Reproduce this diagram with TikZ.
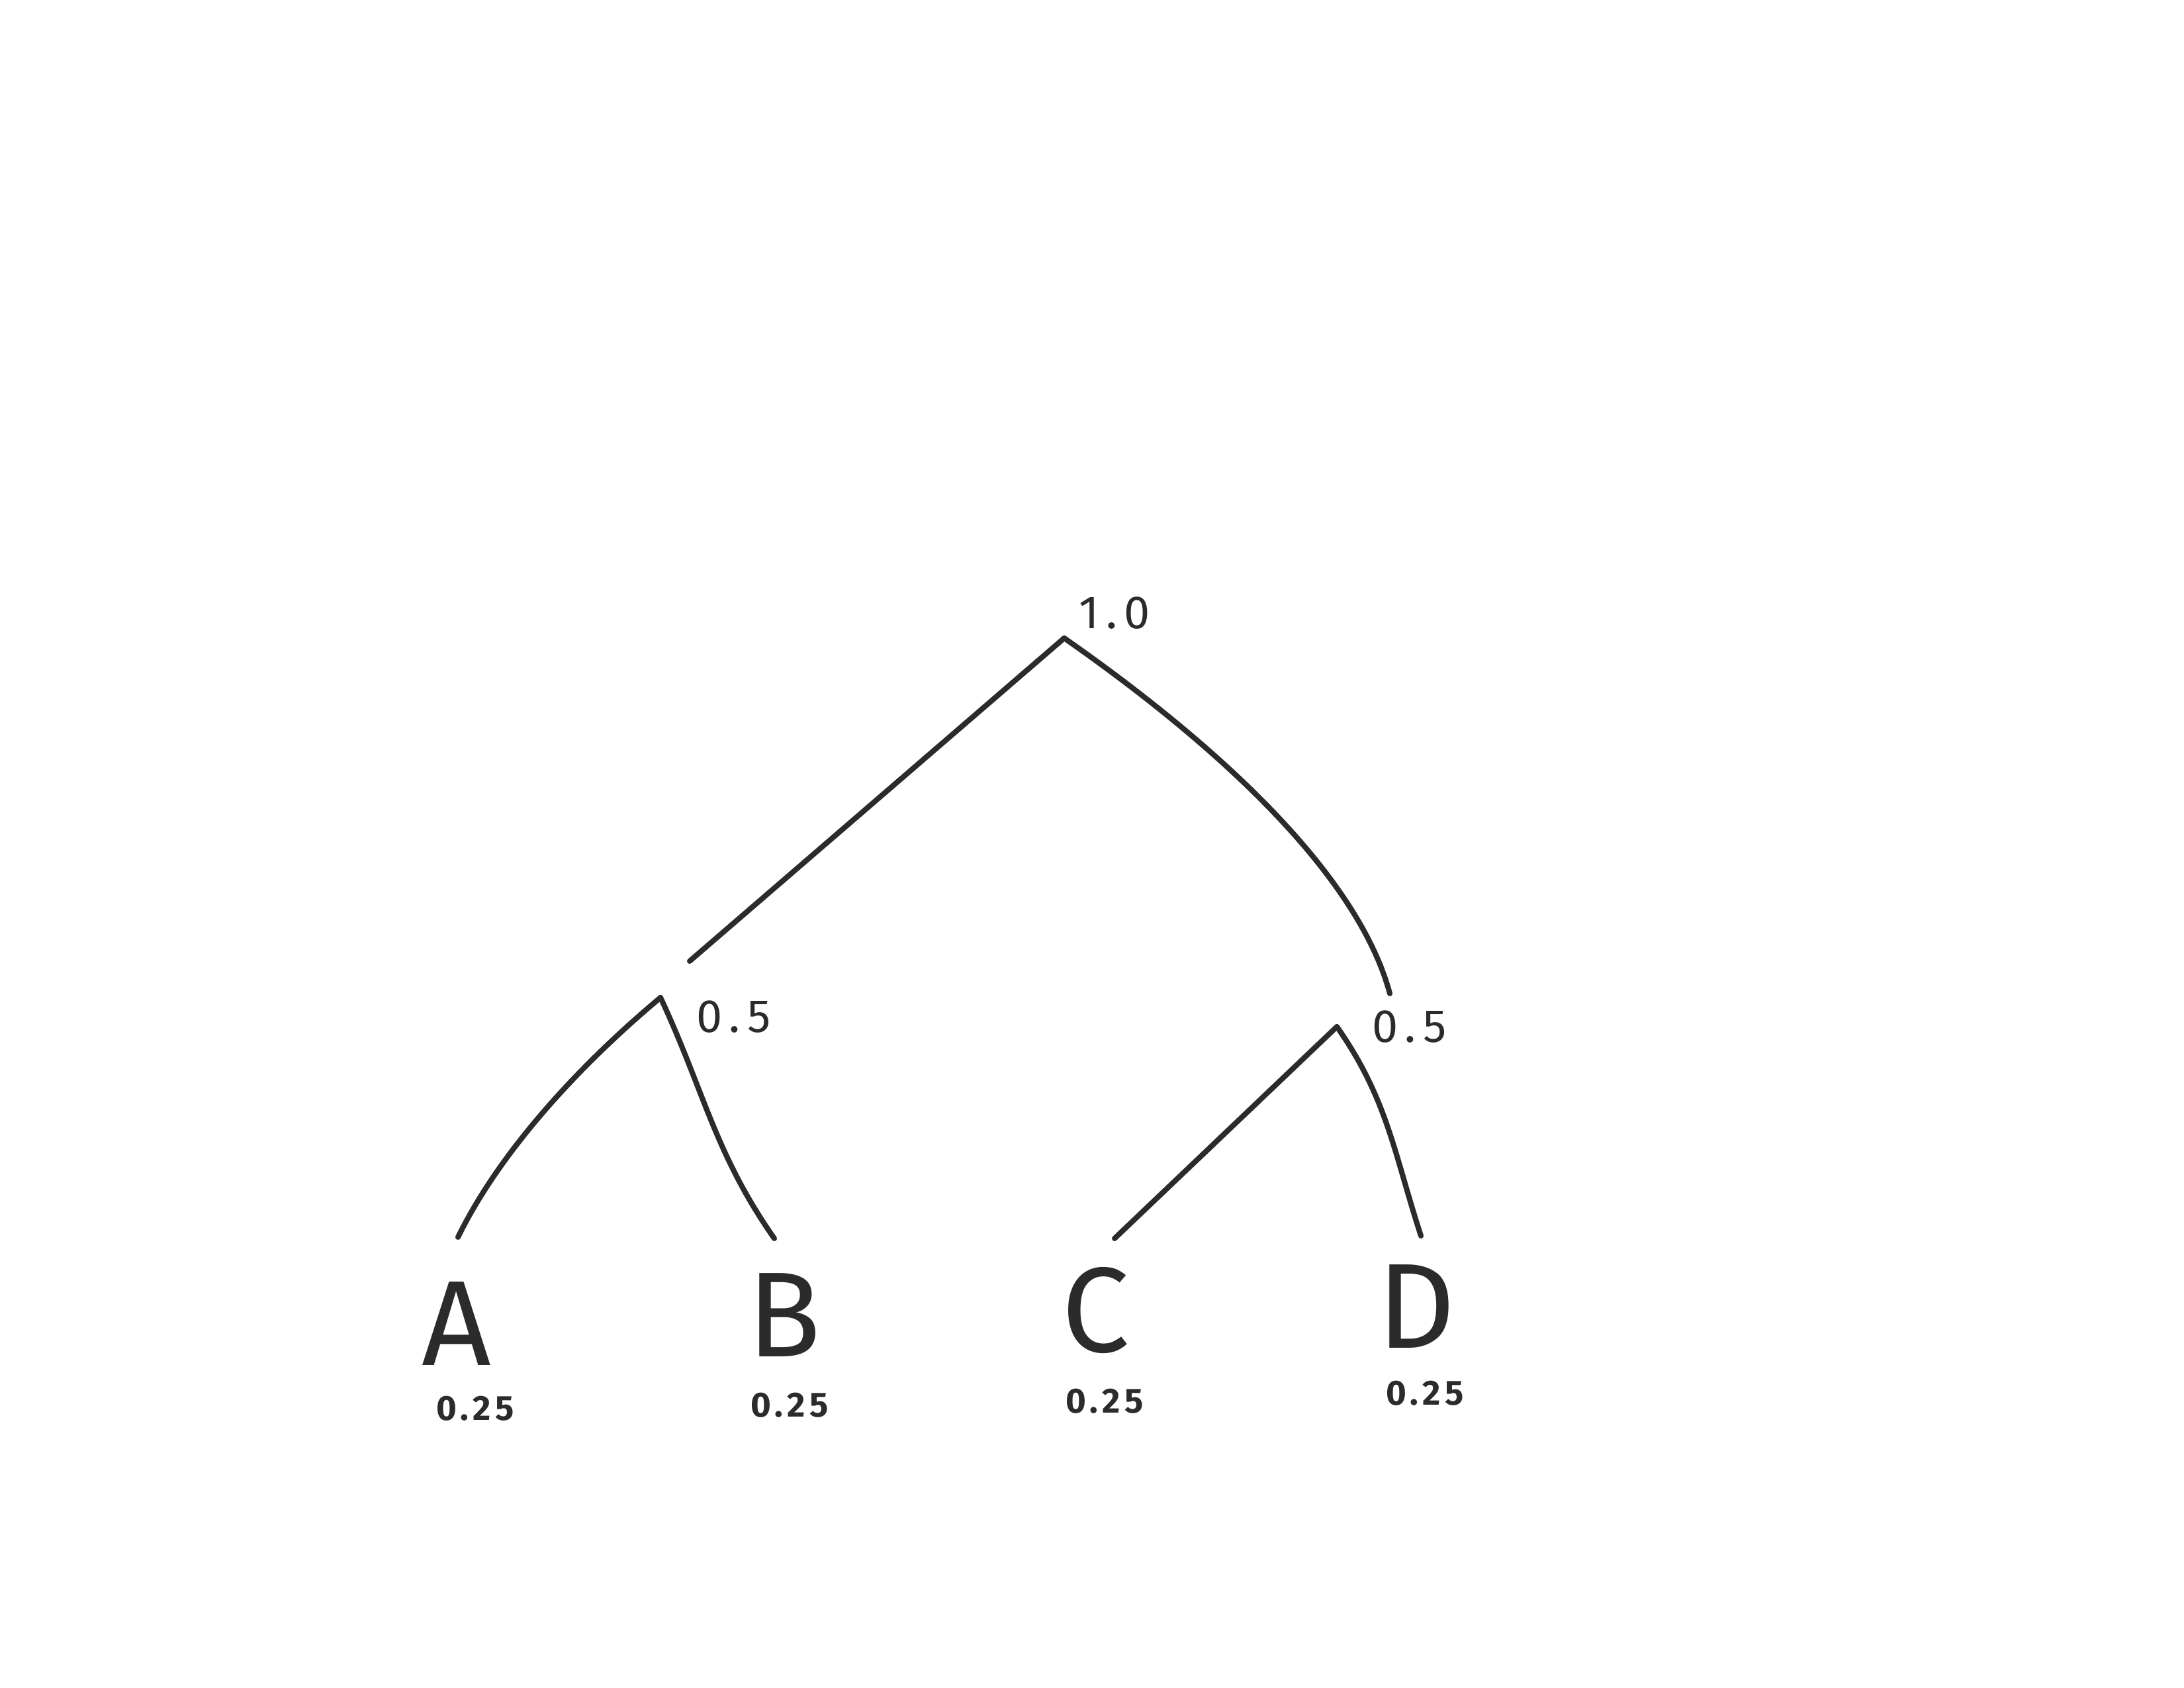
\documentclass[tikz,border=0pt]{standalone}
\usepackage{fontspec}
\setmainfont{Fira Sans}
\definecolor{ink}{HTML}{2B2B2B}
\tikzset{
  edge/.style={draw=ink, line width=2.3pt, line cap=round},
  leaf/.style={text=ink, font=\fontsize{52}{56}\selectfont, inner sep=0pt},
  weight/.style={text=ink, font=\fontsize{20}{22}\selectfont\addfontfeature{LetterSpace=15}, inner sep=0pt},
  leafweight/.style={text=ink, font=\bfseries\fontsize{15}{16}\selectfont\addfontfeature{LetterSpace=12}, inner sep=0pt},
}
\begin{document}
\begin{tikzpicture}
      \useasboundingbox (0,0) rectangle (33,25.5);
      % split points
      \coordinate (root) at (16.08,15.86);
      \coordinate (rootL) at (10.42,10.98);
      \coordinate (rootR) at (21.00,10.49);
      \coordinate (left) at (9.98,10.43);
      \coordinate (right) at (20.20,9.99);
      \coordinate (aTop) at (6.92,6.81);
      \coordinate (bTop) at (11.70,6.79);
      \coordinate (cTop) at (16.84,6.79);
      \coordinate (dTop) at (21.47,6.83);

      \node[weight] (wRoot) at (16.84,16.24) {1.0};
      \node[weight] (wLeft) at (11.09,10.14) {0.5};
      \node[weight] (wRight) at (21.30,9.99) {0.5};

      \node[leaf] (A) at (6.90,5.50) {A};
      \node[leaf] (B) at (11.85,5.63) {B};
      \node[leaf] (C) at (16.56,5.70) {C};
      \node[leaf] (D) at (21.40,5.76) {D};

      \node[leafweight] (wA) at (7.18,4.22) {0.25};
      \node[leafweight] (wB) at (11.93,4.27) {0.25};
      \node[leafweight] (wC) at (16.69,4.33) {0.25};
      \node[leafweight] (wD) at (21.53,4.45) {0.25};

      \draw[edge] (root) -- (rootL);
      \draw[edge] (root) .. controls (18.13,14.43) and (20.48,12.42) .. (rootR);
      \draw[edge] (left) .. controls (8.83,9.47) and (7.58,8.16) .. (aTop);
      \draw[edge] (left) to[out=-65,in=125] (bTop);
      \draw[edge] (right) -- (cTop);
      \draw[edge] (right) to[out=-55,in=108] (dTop);

      \end{tikzpicture}
\end{document}
